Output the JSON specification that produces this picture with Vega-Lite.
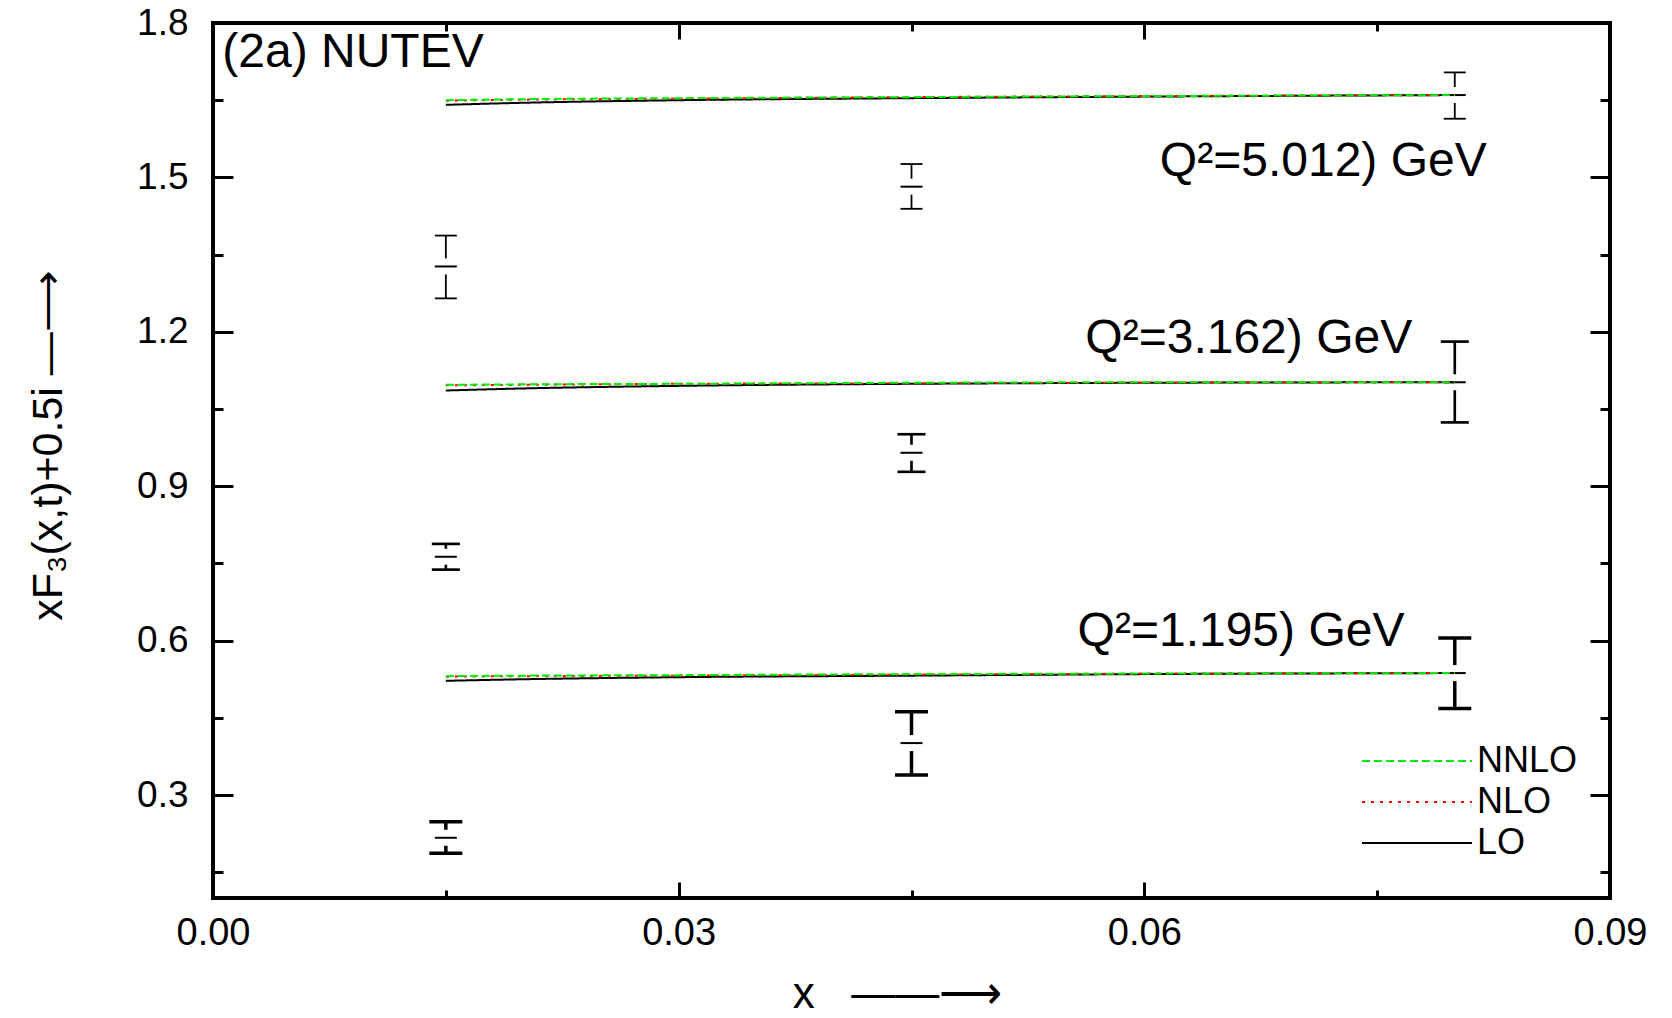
{
  "$schema": "https://vega.github.io/schema/vega-lite/v6.json",
  "width": 1397,
  "height": 875,
  "autosize": {"type": "none"},
  "padding": {"left": 213, "top": 23, "right": 62, "bottom": 120},
  "background": "white",
  "config": {
    "view": {"stroke": "black", "strokeWidth": 4},
    "font": "Liberation Sans",
    "axis": {"grid": false, "domain": false, "tickColor": "black", "tickWidth": 3, "labelColor": "black", "labelFont": "Liberation Sans", "titleFont": "Liberation Sans", "titleColor": "black", "titleFontWeight": "normal", "labelFlush": false}
  },
  "datasets": {
    "points": [
      {"x": 0.015, "y": 1.327, "lo": 1.265, "hi": 1.387, "q": "5.012"},
      {"x": 0.045, "y": 1.482, "lo": 1.439, "hi": 1.526, "q": "5.012"},
      {"x": 0.080, "y": 1.660, "lo": 1.614, "hi": 1.704, "q": "5.012"},
      {"x": 0.015, "y": 0.763, "lo": 0.738, "hi": 0.788, "q": "3.162"},
      {"x": 0.045, "y": 0.965, "lo": 0.928, "hi": 1.001, "q": "3.162"},
      {"x": 0.080, "y": 1.102, "lo": 1.024, "hi": 1.181, "q": "3.162"},
      {"x": 0.015, "y": 0.217, "lo": 0.187, "hi": 0.248, "q": "1.195"},
      {"x": 0.045, "y": 0.401, "lo": 0.339, "hi": 0.462, "q": "1.195"},
      {"x": 0.080, "y": 0.537, "lo": 0.468, "hi": 0.605, "q": "1.195"}
    ],
    "theory": [
      {"x": 0.015, "y": 1.641, "order": "LO", "q": "5.012"},
      {"x": 0.020, "y": 1.645, "order": "LO", "q": "5.012"},
      {"x": 0.030, "y": 1.650, "order": "LO", "q": "5.012"},
      {"x": 0.045, "y": 1.654, "order": "LO", "q": "5.012"},
      {"x": 0.060, "y": 1.657, "order": "LO", "q": "5.012"},
      {"x": 0.080, "y": 1.660, "order": "LO", "q": "5.012"},
      {"x": 0.015, "y": 1.086, "order": "LO", "q": "3.162"},
      {"x": 0.020, "y": 1.090, "order": "LO", "q": "3.162"},
      {"x": 0.030, "y": 1.095, "order": "LO", "q": "3.162"},
      {"x": 0.045, "y": 1.099, "order": "LO", "q": "3.162"},
      {"x": 0.060, "y": 1.101, "order": "LO", "q": "3.162"},
      {"x": 0.080, "y": 1.102, "order": "LO", "q": "3.162"},
      {"x": 0.015, "y": 0.522, "order": "LO", "q": "1.195"},
      {"x": 0.020, "y": 0.525, "order": "LO", "q": "1.195"},
      {"x": 0.030, "y": 0.529, "order": "LO", "q": "1.195"},
      {"x": 0.045, "y": 0.532, "order": "LO", "q": "1.195"},
      {"x": 0.060, "y": 0.535, "order": "LO", "q": "1.195"},
      {"x": 0.080, "y": 0.537, "order": "LO", "q": "1.195"},
      {"x": 0.015, "y": 1.649, "order": "NLO", "q": "5.012"},
      {"x": 0.020, "y": 1.651, "order": "NLO", "q": "5.012"},
      {"x": 0.030, "y": 1.653, "order": "NLO", "q": "5.012"},
      {"x": 0.045, "y": 1.656, "order": "NLO", "q": "5.012"},
      {"x": 0.060, "y": 1.658, "order": "NLO", "q": "5.012"},
      {"x": 0.080, "y": 1.660, "order": "NLO", "q": "5.012"},
      {"x": 0.015, "y": 1.096, "order": "NLO", "q": "3.162"},
      {"x": 0.020, "y": 1.097, "order": "NLO", "q": "3.162"},
      {"x": 0.030, "y": 1.099, "order": "NLO", "q": "3.162"},
      {"x": 0.045, "y": 1.100, "order": "NLO", "q": "3.162"},
      {"x": 0.060, "y": 1.101, "order": "NLO", "q": "3.162"},
      {"x": 0.080, "y": 1.102, "order": "NLO", "q": "3.162"},
      {"x": 0.015, "y": 0.530, "order": "NLO", "q": "1.195"},
      {"x": 0.020, "y": 0.531, "order": "NLO", "q": "1.195"},
      {"x": 0.030, "y": 0.532, "order": "NLO", "q": "1.195"},
      {"x": 0.045, "y": 0.534, "order": "NLO", "q": "1.195"},
      {"x": 0.060, "y": 0.536, "order": "NLO", "q": "1.195"},
      {"x": 0.080, "y": 0.537, "order": "NLO", "q": "1.195"},
      {"x": 0.015, "y": 1.650, "order": "NNLO", "q": "5.012"},
      {"x": 0.020, "y": 1.652, "order": "NNLO", "q": "5.012"},
      {"x": 0.030, "y": 1.654, "order": "NNLO", "q": "5.012"},
      {"x": 0.045, "y": 1.656, "order": "NNLO", "q": "5.012"},
      {"x": 0.060, "y": 1.658, "order": "NNLO", "q": "5.012"},
      {"x": 0.080, "y": 1.660, "order": "NNLO", "q": "5.012"},
      {"x": 0.015, "y": 1.097, "order": "NNLO", "q": "3.162"},
      {"x": 0.020, "y": 1.098, "order": "NNLO", "q": "3.162"},
      {"x": 0.030, "y": 1.099, "order": "NNLO", "q": "3.162"},
      {"x": 0.045, "y": 1.101, "order": "NNLO", "q": "3.162"},
      {"x": 0.060, "y": 1.102, "order": "NNLO", "q": "3.162"},
      {"x": 0.080, "y": 1.102, "order": "NNLO", "q": "3.162"},
      {"x": 0.015, "y": 0.531, "order": "NNLO", "q": "1.195"},
      {"x": 0.020, "y": 0.532, "order": "NNLO", "q": "1.195"},
      {"x": 0.030, "y": 0.533, "order": "NNLO", "q": "1.195"},
      {"x": 0.045, "y": 0.535, "order": "NNLO", "q": "1.195"},
      {"x": 0.060, "y": 0.536, "order": "NNLO", "q": "1.195"},
      {"x": 0.080, "y": 0.537, "order": "NNLO", "q": "1.195"}
    ],
    "labels": [
      {"x": 0.0006, "y": 1.742, "label": "(2a) NUTEV"},
      {"x": 0.0610, "y": 1.529, "label": "Q²=5.012) GeV"},
      {"x": 0.0562, "y": 1.187, "label": "Q²=3.162) GeV"},
      {"x": 0.0557, "y": 0.617, "label": "Q²=1.195) GeV"}
    ]
  },
  "layer": [
    {
      "data": {"name": "points"},
      "mark": {"type": "rule", "color": "black"},
      "encoding": {
        "x": {"field": "x", "type": "quantitative", "scale": {"domain": [0, 0.09], "nice": false, "zero": false},
          "axis": {"orient": "bottom", "values": [0, 0.03, 0.06, 0.09], "format": ".2f", "tickSize": -16, "labelFontSize": 38, "labelPadding": 32,
            "title": "x\u00a0\u00a0\u00a0——⟶", "titleFontSize": 44, "titleX": 684, "titleY": 118, "titleAlign": "center", "titleBaseline": "bottom"}},
        "y": {"field": "lo", "type": "quantitative", "scale": {"domain": [0.1, 1.8], "nice": false, "zero": false},
          "axis": {"orient": "left", "values": [0.3, 0.6, 0.9, 1.2, 1.5, 1.8], "format": ".1f", "tickSize": -20, "labelFontSize": 37, "labelPadding": 45,
            "title": "xF₃(x,t)+0.5i —⟶", "titleFontSize": 43, "titleAngle": -90, "titleX": -165, "titleY": 422, "titleAlign": "center", "titleBaseline": "middle"}},
        "y2": {"field": "hi"},
        "strokeWidth": {"field": "q", "type": "nominal", "scale": {"domain": ["1.195", "3.162", "5.012"], "range": [3.5, 1.8, 1.8]}, "legend": null}
      }
    },
    {
      "data": {"name": "points"},
      "mark": {"type": "point", "shape": "square", "filled": true, "color": "white", "opacity": 1, "size": 256},
      "encoding": {
        "x": {"field": "x", "type": "quantitative", "scale": {"domain": [0, 0.09], "nice": false, "zero": false},
          "axis": {"orient": "bottom", "values": [0.015, 0.045, 0.075], "labels": false, "tickSize": -8, "title": null}},
        "y": {"field": "y", "type": "quantitative", "scale": {"domain": [0.1, 1.8], "nice": false, "zero": false},
          "axis": {"orient": "left", "values": [0.15, 0.45, 0.75, 1.05, 1.35, 1.65], "labels": false, "tickSize": -10, "title": null}}
      }
    },
    {
      "data": {"name": "points"},
      "mark": {"type": "point", "shape": "M-1,0L1,0", "filled": false, "stroke": "black", "strokeWidth": 2, "opacity": 1, "size": 484},
      "encoding": {
        "x": {"field": "x", "type": "quantitative", "scale": {"domain": [0, 0.09], "nice": false, "zero": false},
          "axis": {"orient": "top", "values": [0.03, 0.06], "labels": false, "tickSize": -16, "title": null}},
        "y": {"field": "y", "type": "quantitative", "scale": {"domain": [0.1, 1.8], "nice": false, "zero": false},
          "axis": {"orient": "right", "values": [0.3, 0.6, 0.9, 1.2, 1.5], "labels": false, "tickSize": -20, "title": null}}
      }
    },
    {
      "data": {"name": "points"},
      "mark": {"type": "point", "shape": "M-1,0L1,0", "filled": false, "stroke": "black", "opacity": 1},
      "encoding": {
        "x": {"field": "x", "type": "quantitative", "scale": {"domain": [0, 0.09], "nice": false, "zero": false},
          "axis": {"orient": "top", "values": [0.015, 0.045, 0.075], "labels": false, "tickSize": -8, "title": null}},
        "y": {"field": "hi", "type": "quantitative", "scale": {"domain": [0.1, 1.8], "nice": false, "zero": false},
          "axis": {"orient": "right", "values": [0.15, 0.45, 0.75, 1.05, 1.35, 1.65], "labels": false, "tickSize": -10, "title": null}},
        "size": {"field": "q", "type": "nominal", "scale": {"domain": ["1.195", "3.162", "5.012"], "range": [1089, 484, 484]}, "legend": null},
        "strokeWidth": {"field": "q", "type": "nominal", "scale": {"domain": ["1.195", "3.162", "5.012"], "range": [3.5, 1.8, 1.8]}, "legend": null}
      }
    },
    {
      "data": {"name": "points"},
      "mark": {"type": "point", "shape": "M-1,0L1,0", "filled": false, "stroke": "black", "opacity": 1},
      "encoding": {
        "x": {"field": "x", "type": "quantitative", "scale": {"domain": [0, 0.09], "nice": false, "zero": false}, "axis": null},
        "y": {"field": "lo", "type": "quantitative", "scale": {"domain": [0.1, 1.8], "nice": false, "zero": false}, "axis": null},
        "size": {"field": "q", "type": "nominal", "scale": {"domain": ["1.195", "3.162", "5.012"], "range": [1089, 484, 484]}, "legend": null},
        "strokeWidth": {"field": "q", "type": "nominal", "scale": {"domain": ["1.195", "3.162", "5.012"], "range": [3.5, 1.8, 1.8]}, "legend": null}
      }
    },
    {
      "data": {"name": "theory"},
      "mark": {"type": "line", "strokeWidth": 2, "interpolate": "monotone"},
      "encoding": {
        "x": {"field": "x", "type": "quantitative", "scale": {"domain": [0, 0.09], "nice": false, "zero": false}, "axis": null},
        "y": {"field": "y", "type": "quantitative", "scale": {"domain": [0.1, 1.8], "nice": false, "zero": false}, "axis": null},
        "detail": {"field": "q", "type": "nominal"},
        "color": {"field": "order", "type": "nominal", "scale": {"domain": ["NNLO", "NLO", "LO"], "range": ["#00ee00", "#ff0000", "#000000"]},
          "legend": {"title": null, "orient": "none", "legendX": 1148, "legendY": 718, "symbolType": "stroke", "symbolSize": 12100, "clipHeight": 40, "symbolStrokeWidth": 2, "labelFontSize": 36, "labelFont": "Liberation Sans", "labelColor": "black", "labelOffset": 4, "rowPadding": 1, "padding": 0}},
        "strokeDash": {"field": "order", "type": "nominal", "scale": {"domain": ["NNLO", "NLO", "LO"], "range": [[8, 4], [3, 6], [1, 0]]},
          "legend": {"title": null, "orient": "none", "legendX": 1148, "legendY": 718, "symbolType": "stroke", "symbolSize": 12100, "clipHeight": 40, "symbolStrokeWidth": 2, "labelFontSize": 36, "labelFont": "Liberation Sans", "labelColor": "black", "labelOffset": 4, "rowPadding": 1, "padding": 0}},
        "order": {"field": "x", "type": "quantitative"}
      }
    },
    {
      "data": {"name": "labels"},
      "mark": {"type": "text", "align": "left", "baseline": "middle", "fontSize": 48, "font": "Liberation Sans", "color": "black"},
      "encoding": {
        "x": {"field": "x", "type": "quantitative", "scale": {"domain": [0, 0.09], "nice": false, "zero": false}, "axis": null},
        "y": {"field": "y", "type": "quantitative", "scale": {"domain": [0.1, 1.8], "nice": false, "zero": false}, "axis": null},
        "text": {"field": "label", "type": "nominal"}
      }
    }
  ],
  "resolve": {"axis": {"x": "independent", "y": "independent"}}
}
